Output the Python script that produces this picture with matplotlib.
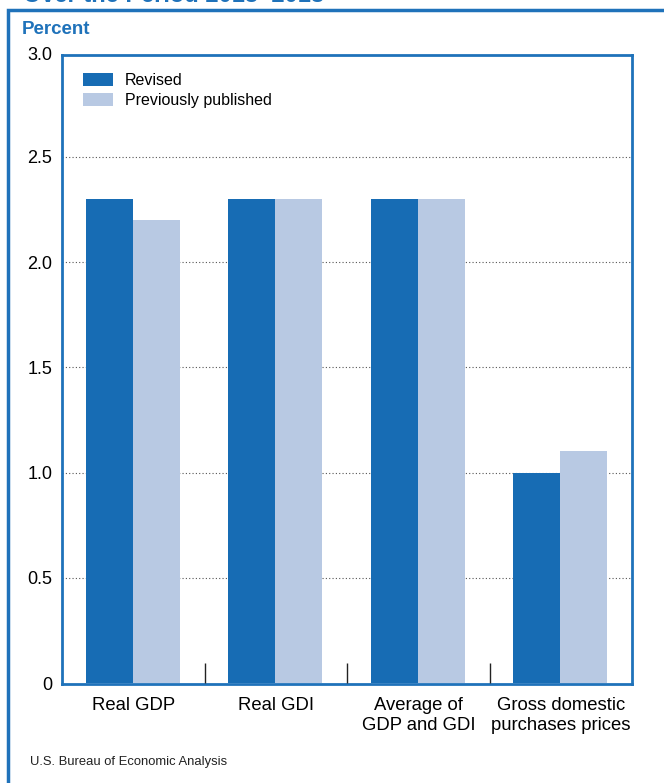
import matplotlib
matplotlib.use("Agg")
import matplotlib.pyplot as plt
from matplotlib.patches import Rectangle
import numpy as np

plt.rcParams['font.family'] = ['Liberation Sans', 'DejaVu Sans']

categories = ["Real GDP", "Real GDI", "Average of\nGDP and GDI", "Gross domestic\npurchases prices"]
revised = [2.3, 2.3, 2.3, 1.0]
previously_published = [2.2, 2.3, 2.3, 1.1]
series_names = ["Revised", "Previously published"]
y_ticks = [0, 0.5, 1.0, 1.5, 2.0, 2.5]
y_tick_labels = ["0", "0.5", "1.0", "1.5", "2.0", "2.5"]
y_top_label = "3.0"

BLUE = "#176cb4"
LIGHT = "#b8c9e3"
FRAME = "#1f72ba"

W, H = 664, 783
fig = plt.figure(figsize=(W / 100, H / 100), dpi=100)

# outer panel border (runs off the right and bottom edges)
fig.patches.append(Rectangle((8 / W, -0.05), 1.2, 1 - 10 / H + 0.05,
                             transform=fig.transFigure, fill=False,
                             edgecolor=FRAME, linewidth=2.5, zorder=0))

# title line, clipped by the top edge
fig.text(0.035, 1 - 2.5 / H, "Over the Period 2013\u20132018", fontsize=17,
         fontweight='bold', color=FRAME, va='baseline', ha='left')

fig.text(22 / W, 1 - 29 / H, "Percent", fontsize=13.5, fontweight='bold',
         color=FRAME, va='center', ha='left',
         family=['Liberation Sans Narrow', 'Liberation Sans'])

# plot area: 55 px to 684 px from the top, 210.5 px per percentage point
px_per_unit = 210.5
ax = fig.add_axes([62 / W, 1 - 684 / H, 570 / W, 629 / H])
ax.set_ylim(-1 / px_per_unit, (683 - 55) / px_per_unit)

x = np.arange(len(categories)) + 0.5
bw = 0.33
ax.bar(x - bw / 2 - 0.005, revised, width=bw, color=BLUE, zorder=3,
       label=series_names[0])
ax.bar(x + bw / 2 - 0.005, previously_published, width=bw, color=LIGHT,
       zorder=3, label=series_names[1])

ax.set_xlim(0, len(categories))
ax.set_yticks(y_ticks)
ax.set_yticklabels(y_tick_labels, fontsize=13)
ax.tick_params(axis='y', length=0, pad=7)
ax.text(-10 / 570, 1.0, y_top_label, fontsize=13,
        transform=ax.transAxes, ha='right', va='center')
ax.set_xticks(x)
ax.set_xticklabels(categories, fontsize=13.3, linespacing=1.3)
ax.tick_params(axis='x', length=0, pad=9)

for yv in y_ticks[1:]:
    ax.axhline(yv, color="#555555", linestyle=(0, (1, 2)), linewidth=0.8,
               zorder=1)

# group separators
ax.vlines(np.arange(1, len(categories)), 0, 0.095, color="#222222",
          linewidth=1, zorder=4)

for s in ax.spines.values():
    s.set_color(FRAME)
    s.set_linewidth(2)

ax.legend(loc='upper left', bbox_to_anchor=(21 / 570, 1 - 18 / 629),
          frameon=False, fontsize=11.5, handlelength=1.9, handleheight=0.85,
          handletextpad=0.7, labelspacing=0.3, borderaxespad=0,
          borderpad=0)

fig.text(30 / W, 1 - 762 / H, "U.S. Bureau of Economic Analysis", fontsize=9.4,
         color="#222222", va='center', ha='left',
         family=['Liberation Sans Narrow', 'Liberation Sans'])

fig.savefig("out.png", dpi=100)
